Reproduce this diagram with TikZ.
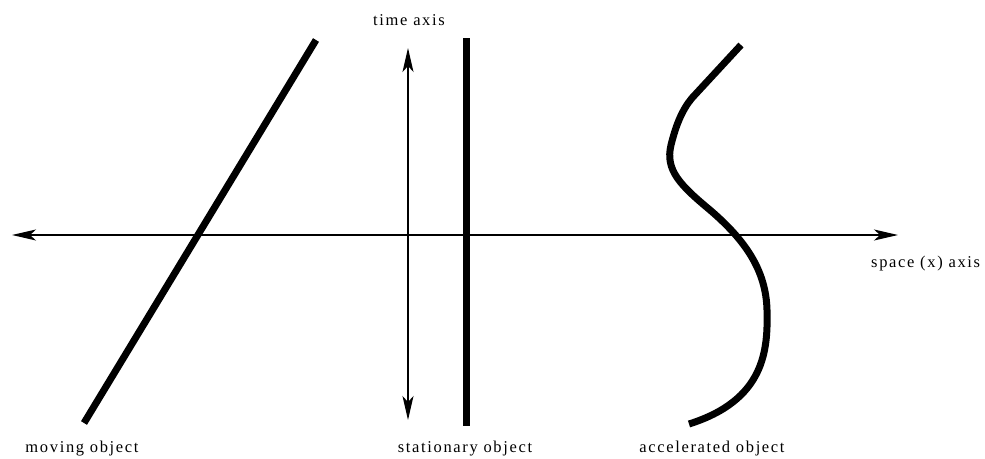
\documentclass[tikz,border=0pt]{standalone}
\usepackage{fontspec}
\setmainfont{Liberation Serif}[LetterSpace=10]
\usetikzlibrary{arrows.meta}
\begin{document}
\begin{tikzpicture}[x=1pt,y=-1pt,
  axis/.style={line width=1.3pt,{Stealth[length=24pt,width=11pt,inset=6pt]}-{Stealth[length=24pt,width=11pt,inset=6pt]}},
  world/.style={line width=7pt},
  lbl/.style={font=\fontsize{16.5}{18}\selectfont,inner sep=0pt}]
\useasboundingbox (0,0) rectangle (985,458);
\coordinate (xl) at (12,235);
\coordinate (xr) at (898,235);
\coordinate (tt) at (408,48);
\coordinate (tb) at (408,420);
\draw[axis] (xl) -- (xr);
\draw[axis] (tb) -- (tt);
\coordinate (m1) at (84,423);
\coordinate (m2) at (316,40);
\draw[world] (m1) -- (m2);
\coordinate (s1) at (466,38);
\coordinate (s2) at (466,426);
\draw[world] (s1) -- (s2);
\coordinate (a1) at (741,45);
\coordinate (a2) at (689,424);
\draw[world,line join=round] (a1) -- (692,98)
  .. controls (682,110) and (676,125) .. (671,145)
  .. controls (665,170) and (680,185) .. (710,210)
  .. controls (745,240) and (766,270) .. (767,310)
  .. controls (768,350) and (765,400) .. (a2);
\node[lbl] (tl) at (409,20) {time axis};
\node[lbl,anchor=west] (sl) at (871,264) {space (x) axis};
\node[lbl] (ml) at (82,449) {moving object};
\node[lbl] (stl) at (465,449) {stationary object};
\node[lbl] (al) at (712,449) {accelerated object};
\end{tikzpicture}
\end{document}
